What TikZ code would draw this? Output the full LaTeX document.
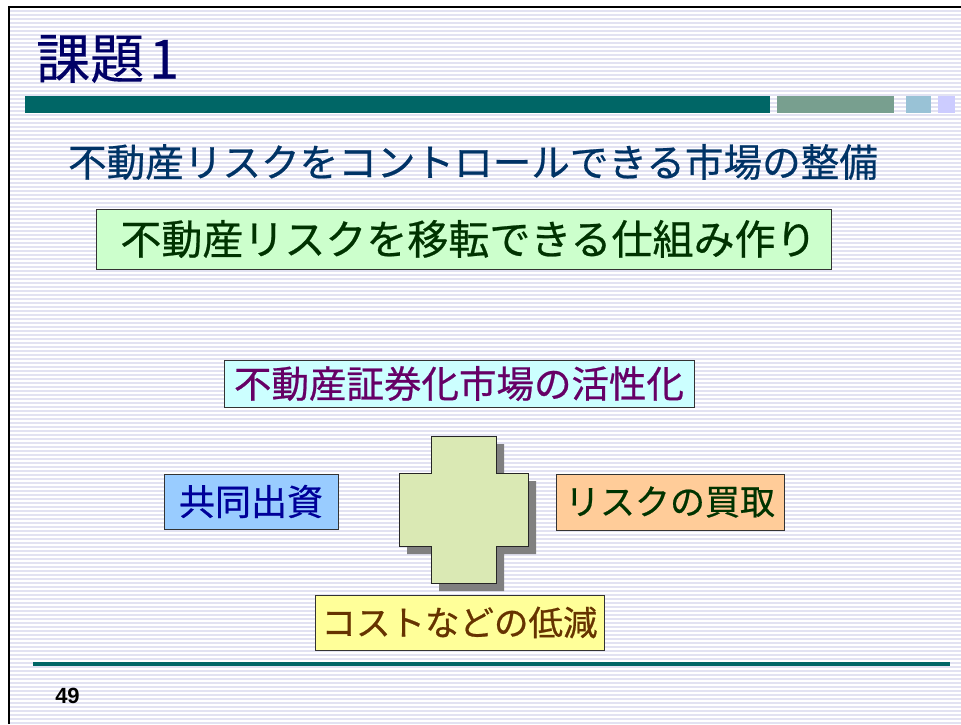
\documentclass[tikz,border=0pt]{standalone}
\usepackage{fontspec}
\setmainfont{Noto Sans CJK JP}[CharacterWidth=Proportional, FakeBold=0.6]
\newfontfamily\titlefont{Noto Sans CJK JP}[CharacterWidth=Proportional, FakeBold=0.3]
\newfontfamily\numfont{Liberation Sans}
\definecolor{stripe}{HTML}{E2E2F2}
\definecolor{titlenavy}{HTML}{000066}
\definecolor{teal}{HTML}{006666}
\definecolor{bartwo}{HTML}{789F8F}
\definecolor{barthree}{HTML}{99C2D6}
\definecolor{barfour}{HTML}{CCCCFF}
\definecolor{subnavy}{HTML}{003366}
\definecolor{greenfill}{HTML}{CCFFCC}
\definecolor{darkgreen}{HTML}{003300}
\definecolor{cyanfill}{HTML}{CCFFFF}
\definecolor{purpletext}{HTML}{660066}
\definecolor{bluefill}{HTML}{99CCFF}
\definecolor{bluetext}{HTML}{000099}
\definecolor{orangefill}{HTML}{FFCC99}
\definecolor{yellowfill}{HTML}{FFFF99}
\definecolor{browntext}{HTML}{663300}
\definecolor{crossfill}{HTML}{DAE9B4}
\definecolor{shadowgray}{HTML}{808080}
\tikzset{
  labelbox/.style={draw=black!80, line width=0.8pt, inner sep=0pt},
}
\begin{document}
\begin{tikzpicture}[x=1pt,y=-1pt]
\useasboundingbox (0,0) rectangle (961,724);
\fill[white] (0,0) rectangle (961,724);
\foreach \i in {0,...,179} { \fill[stripe] (10,{8+4*\i+2}) rectangle (961,{8+4*\i+4}); }
\draw[line width=2.5pt] (9,724) -- (9,7) -- (961,7);
% title
\node[anchor=west, inner sep=0pt, text=titlenavy, font=\titlefont\fontsize{54}{54}\selectfont] (title) at (36,59) {課題\hspace{5pt}1};
% header bars
\fill[teal] (25,96) rectangle (770,113);
\fill[bartwo] (777,96) rectangle (894,113);
\fill[barthree] (906,96) rectangle (931,113);
\fill[barfour] (938,96) rectangle (955,113);
% subtitle
\node[inner sep=0pt, text=subnavy, font=\fontsize{38.6}{39}\selectfont] (sub) at (473,162) {不動産リスクをコントロールできる市場の整備};
% boxes
\node[labelbox, fill=greenfill, text=darkgreen, minimum width=735pt, minimum height=60pt, font=\fontsize{41}{41}\selectfont] (transfer) at (463.5,239) {\hspace{10pt}不動産リスクを移転できる仕組み作り};
\node[labelbox, fill=cyanfill, text=purpletext, minimum width=470pt, minimum height=47pt, font=\fontsize{37.5}{37.5}\selectfont] (secur) at (459,383.5) {不動産証券化市場の活性化};
\node[labelbox, fill=bluefill, text=bluetext, minimum width=174pt, minimum height=55pt, font=\fontsize{36}{36}\selectfont] (joint) at (251,501.5) {共同出資};
\node[labelbox, fill=orangefill, text=darkgreen, minimum width=228pt, minimum height=56pt, font=\fontsize{35}{35}\selectfont] (buy) at (670,502) {リスクの買取};
% cross
\fill[shadowgray] (439,444) -- (504,444) -- (504,481) -- (536,481) -- (536,554) -- (504,554) -- (504,591) -- (439,591) -- (439,554) -- (407,554) -- (407,481) -- (439,481) -- cycle;
\draw[fill=crossfill, draw=black!85, line width=0.8pt] (431,436) -- (496,436) -- (496,473) -- (528,473) -- (528,546) -- (496,546) -- (496,583) -- (431,583) -- (431,546) -- (399,546) -- (399,473) -- (431,473) -- cycle;
\node[labelbox, fill=yellowfill, text=browntext, minimum width=289pt, minimum height=55pt, font=\fontsize{34.5}{34.5}\selectfont] (cost) at (459.5,622.5) {コストなどの低減};
% footer
\draw[teal, line width=4pt] (33,664) -- (950,664);
\node[inner sep=0pt, font=\numfont\bfseries\fontsize{22}{22}\selectfont] (page) at (67.5,696) {49};
\end{tikzpicture}
\end{document}
